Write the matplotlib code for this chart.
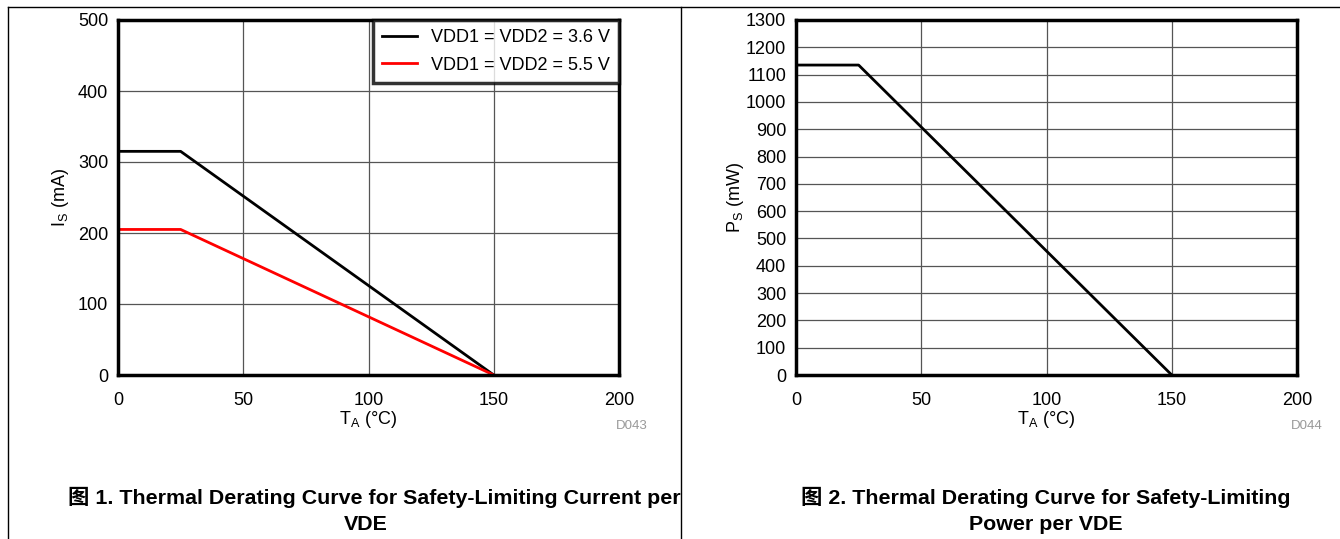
import matplotlib
matplotlib.use('Agg')
import matplotlib.pyplot as plt
from matplotlib.lines import Line2D

plt.rcParams['font.family'] = ['Liberation Sans', 'Noto Sans CJK SC']
plt.rcParams['mathtext.fontset'] = 'custom'
plt.rcParams['mathtext.rm'] = 'Liberation Sans'
plt.rcParams['mathtext.it'] = 'Liberation Sans'

# 데이터
temp_c = [0, 25, 150]
is_36v = [315, 315, 0]
is_55v = [205, 205, 0]
ps_mw = [1135, 1135, 0]

x_ticks = [0, 50, 100, 150, 200]
is_ticks = [0, 100, 200, 300, 400, 500]
ps_ticks = list(range(0, 1301, 100))

fig = plt.figure(figsize=(13.4, 5.39), dpi=100)
W, H = 1340, 539

def px_axes(x0, y0, x1, y1):
    return fig.add_axes([x0 / W, 1 - y1 / H, (x1 - x0) / W, (y1 - y0) / H])

def style(ax):
    for s in ax.spines.values():
        s.set_linewidth(2.5)
        s.set_color('black')
    ax.grid(True, color='#555555', linewidth=0.9)
    ax.set_axisbelow(True)
    ax.tick_params(length=0, labelsize=13)
    ax.tick_params(axis='x', pad=12)
    ax.tick_params(axis='y', pad=7)

# 왼쪽 그래프
ax1 = px_axes(118, 20, 619, 375)
ax1.plot(temp_c, is_36v, color='black', linewidth=2, label='VDD1 = VDD2 = 3.6 V')
ax1.plot(temp_c, is_55v, color='#ff0000', linewidth=2, label='VDD1 = VDD2 = 5.5 V')
ax1.set_xlim(0, 200)
ax1.set_ylim(0, 500)
ax1.set_xticks(x_ticks)
ax1.set_yticks(is_ticks)
style(ax1)
ax1.set_xlabel(r'T$_\mathrm{A}$ (°C)', fontsize=13, labelpad=0)
ax1.set_ylabel(r'I$_\mathrm{S}$ (mA)', fontsize=13, labelpad=5)
leg = ax1.legend(loc='upper right', fontsize=13, frameon=True, fancybox=False,
                 borderaxespad=0, handlelength=1.9, borderpad=0.5, labelspacing=0.58)
leg.get_frame().set_edgecolor('black')
leg.get_frame().set_linewidth(2.5)

# 오른쪽 그래프
ax2 = px_axes(796, 20, 1297, 375)
ax2.plot(temp_c, ps_mw, color='black', linewidth=2)
ax2.set_xlim(0, 200)
ax2.set_ylim(0, 1300)
ax2.set_xticks(x_ticks)
ax2.set_yticks(ps_ticks)
style(ax2)
ax2.set_xlabel(r'T$_\mathrm{A}$ (°C)', fontsize=13, labelpad=0)
ax2.set_ylabel(r'P$_\mathrm{S}$ (mW)', fontsize=13, labelpad=0)

# 작은 표시 글자
fig.text(648 / W, 1 - 426 / H, 'D043', color='#999999', fontsize=9.5, ha='right', va='center')
fig.text(1323 / W, 1 - 426 / H, 'D044', color='#999999', fontsize=9.5, ha='right', va='center')

# 캡션
fig.text(374 / W, 1 - 497 / H, '图 1. Thermal Derating Curve for Safety-Limiting Current per',
         fontsize=15.4, fontweight='bold', ha='center', va='center')
fig.text(366 / W, 1 - 525 / H, 'VDE', fontsize=15.4, fontweight='bold', ha='center', va='center')
fig.text(1046 / W, 1 - 497 / H, '图 2. Thermal Derating Curve for Safety-Limiting',
         fontsize=15.4, fontweight='bold', ha='center', va='center')
fig.text(1046 / W, 1 - 525 / H, 'Power per VDE', fontsize=15.4, fontweight='bold', ha='center', va='center')

# 바깥 테두리
fig.add_artist(Line2D([8 / W, 1], [1 - 7 / H, 1 - 7 / H], color='black', linewidth=1))
fig.add_artist(Line2D([8 / W, 8 / W], [0, 1 - 7 / H], color='black', linewidth=1))
fig.add_artist(Line2D([681 / W, 681 / W], [0, 1 - 7 / H], color='black', linewidth=1))

fig.savefig('out.png', dpi=100)
